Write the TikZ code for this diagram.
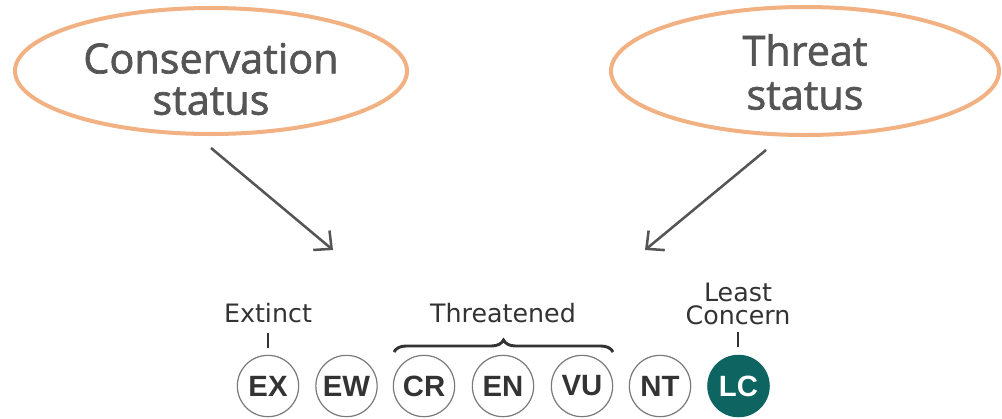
\documentclass[tikz,border=0pt]{standalone}
\usepackage{fontspec}
\usetikzlibrary{arrows.meta,decorations.pathreplacing}
\newfontfamily\ellfont{Open Sans}[FakeBold=1.6]
\newfontfamily\labfont{DejaVu Sans}
\newfontfamily\codefont{Liberation Sans}
\definecolor{orangeline}{HTML}{F2B183}
\definecolor{graytext}{HTML}{555555}
\definecolor{darktext}{HTML}{333333}
\definecolor{circgray}{HTML}{7A7A7A}
\definecolor{teal}{HTML}{0E6461}
\tikzset{
  elltext/.style={font=\ellfont\fontsize{31}{37}\selectfont, text=graytext, align=center},
  pointer/.style={draw=graytext, line width=1.9pt, -{Straight Barb[length=10pt,width=19pt,line width=1.9pt]}},
  catcircle/.style={circle, draw=circgray, line width=0.9pt, minimum size=46pt, inner sep=0pt, font=\codefont\bfseries\fontsize{22}{22}\selectfont, text=darktext},
  grouplabel/.style={font=\labfont\fontsize{19}{17}\selectfont, text=darktext, align=center},
  tick/.style={draw=darktext, line width=1.3pt},
}
\begin{document}
\begin{tikzpicture}[x=0.75pt,y=-0.75pt]
\useasboundingbox (0,0) rectangle (1002,418);
\draw[orangeline, line width=3pt] (211,71) ellipse [x radius=196, y radius=63];
\draw[orangeline, line width=3pt] (805,71) ellipse [x radius=194, y radius=64];
\node[elltext] (cs) at (211,79) {Conservation\\[-6pt]status};
\node[elltext] (ts) at (805,72) {Threat\\[-4pt]status};
\coordinate (a1s) at (211,148);
\coordinate (a1e) at (333,250);
\coordinate (a2s) at (766,150);
\coordinate (a2e) at (645,250);
\draw[pointer] (a1s) -- (a1e);
\draw[pointer] (a2s) -- (a2e);
\node[catcircle] (EX) at (268,386) {EX};
\node[catcircle] (EW) at (346.5,386) {EW};
\node[catcircle] (CR) at (424,386) {CR};
\node[catcircle] (EN) at (503,386) {EN};
\node[catcircle] (VU) at (582,386) {VU};
\node[catcircle] (NT) at (660,386) {NT};
\node[catcircle, fill=teal, draw=teal, text=white] (LC) at (738.5,386) {LC};
\node[grouplabel] (ext) at (268,313) {Extinct};
\node[grouplabel] (thr) at (503,313) {Threatened};
\node[grouplabel, inner sep=0pt] (lcA) at (738,292) {Least};
\node[grouplabel, inner sep=0pt] (lcB) at (738,315.5) {Concern};
\coordinate (t1a) at (268,333);
\coordinate (t1b) at (268,348);
\coordinate (t2a) at (738,332);
\coordinate (t2b) at (738,347);
\draw[tick] (t1a) -- (t1b);
\draw[tick] (t2a) -- (t2b);
\coordinate (b1) at (394,352);
\coordinate (b2) at (613,352);
\draw[darktext, line width=2.2pt, decorate, decoration={brace, amplitude=9pt}] (b1) -- (b2);
\end{tikzpicture}
\end{document}
